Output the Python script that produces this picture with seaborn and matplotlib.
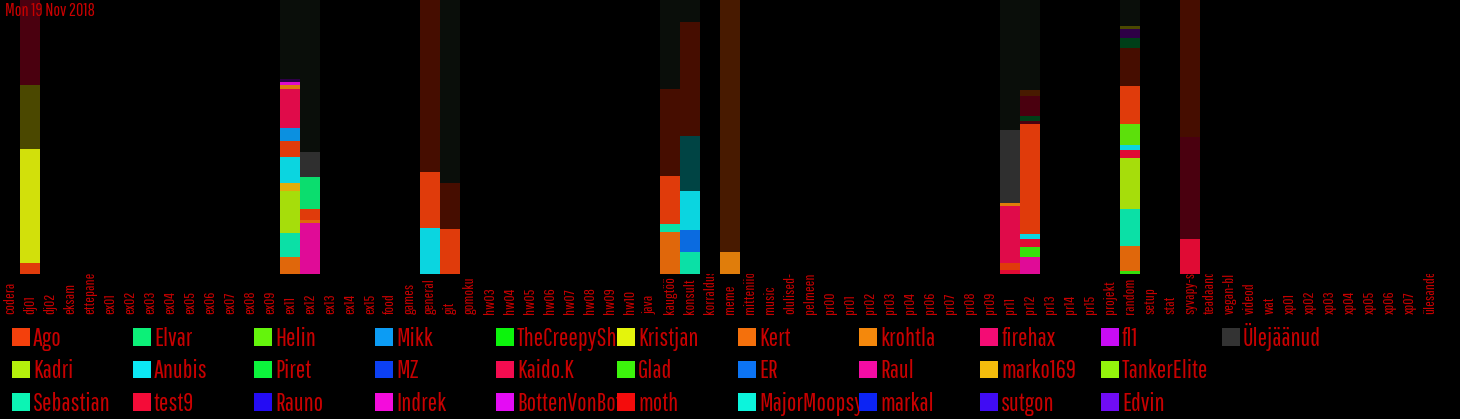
import matplotlib
matplotlib.use('Agg')
import pandas as pd
import matplotlib.pyplot as plt
import seaborn as sns
from matplotlib.patches import Patch
from matplotlib.transforms import Bbox, TransformedBbox

# channels on the x axis
channels = ['codera', 'dj01', 'dj02', 'eksam', 'ettepanekud',
            'ex01', 'ex02', 'ex03', 'ex04', 'ex05', 'ex06', 'ex07', 'ex08', 'ex09',
            'ex11', 'ex12', 'ex13', 'ex14', 'ex15', 'food', 'games', 'general', 'git', 'gomoku',
            'hw03', 'hw04', 'hw05', 'hw06', 'hw07', 'hw08', 'hw09', 'hw10',
            'java', 'kaugtöö', 'konsult', 'korraldus', 'meme', 'mitteniiolulised', 'music',
            'olulised-teated', 'pelmeeni-klubi',
            'pr00', 'pr01', 'pr02', 'pr03', 'pr04', 'pr06', 'pr07', 'pr08', 'pr09',
            'pr11', 'pr12', 'pr13', 'pr14', 'pr15', 'projekt', 'random', 'setup', 'stat',
            'syvapy-süvaõpe', 'teadaanded', 'vegan-blogi', 'videod', 'wat',
            'xp01', 'xp02', 'xp03', 'xp04', 'xp05', 'xp06', 'xp07', 'ülesanded']

# legend users (column by column) and their colours
users = ['Ago', 'Kadri', 'Sebastian', 'Elvar', 'Anubis', 'test9', 'Helin', 'Piret', 'Rauno',
         'Mikk', 'MZ', 'Indrek', 'TheCreepySh', 'Kaido.K', 'BottenVonBot', 'Kristjan', 'Glad', 'moth',
         'Kert', 'ER', 'MajorMoopsy', 'krohtla', 'Raul', 'markal', 'firehax', 'marko169', 'sutgon',
         'fl1', 'TankerElite', 'Edvin', 'Ülejäänud']
user_colors = ['#f4400c', '#b4f00c', '#0cf4b4', '#0cf078', '#0ce8f4', '#f40c38', '#64f40c', '#0cf43c', '#240cf4',
               '#0c9cf4', '#0c40f4', '#f40cdc', '#0cf40c', '#f40c50', '#e40cf4', '#e4f40c', '#3cf40c', '#f40c0c',
               '#f4700c', '#0c74f4', '#0cf4dc', '#f4880c', '#f40ca4', '#0c24f4', '#f40c74', '#f4bc0c', '#400cf4',
               '#c80cf4', '#94f40c', '#700cf4', '#333333']

# dark series without legend entry
dark_users = ['_tume', '_pruun', '_bordoo', '_oliiv', '_teal', '_roheline', '_lilla', '_oranz']
dark_colors = ['#0b0f0b', '#4c0e00', '#500010', '#524e00', '#004a4a', '#00441a', '#32004c', '#4e1c00']

# stacked segments, bottom to top (pixel-ish shares, normalised per channel)
seg_channel = (['dj01'] * 4
               + ['ex11'] * 12
               + ['ex12'] * 6
               + ['general'] * 3
               + ['git'] * 3
               + ['kaugtöö'] * 5
               + ['konsult'] * 6
               + ['meme'] * 2
               + ['pr11'] * 6
               + ['pr12'] * 10
               + ['random'] * 13
               + ['syvapy-süvaõpe'] * 3)
seg_user = (['Ago', 'Kristjan', '_oliiv', '_bordoo']
            + ['Kert', 'Sebastian', 'Kadri', 'marko169', 'Anubis', 'Ago', 'Mikk', 'Kaido.K', 'krohtla', 'Indrek', '_lilla', '_tume']
            + ['Raul', 'Kert', 'Ago', 'Elvar', 'Ülejäänud', '_tume']
            + ['Anubis', 'Ago', '_pruun']
            + ['Ago', '_pruun', '_tume']
            + ['Kert', 'Sebastian', 'Ago', '_pruun', '_tume']
            + ['Sebastian', 'ER', 'Anubis', '_teal', '_pruun', '_tume']
            + ['krohtla', '_oranz']
            + ['test9', 'Ago', 'Kaido.K', 'krohtla', 'Ülejäänud', '_tume']
            + ['Raul', 'Glad', 'test9', 'Anubis', 'Ago', '_bordoo', '_roheline', '_bordoo', '_oranz', '_tume']
            + ['Glad', 'Kert', 'Sebastian', 'Kadri', 'test9', 'Anubis', 'Helin', 'Ago', '_pruun', '_roheline', '_lilla', '_oliiv', '_tume']
            + ['test9', '_bordoo', '_pruun'])
seg_share = ([11, 114, 63, 85]
             + [17, 23, 41, 8, 25, 16, 12, 38, 4, 3, 3, 77]
             + [50, 3, 11, 32, 25, 150]
             + [46, 56, 172]
             + [45, 46, 183]
             + [42, 8, 47, 87, 88]
             + [22, 22, 38, 54, 113, 22]
             + [22, 252]
             + [4, 7, 57, 3, 72, 130]
             + [17, 10, 8, 5, 109, 3, 5, 20, 6, 89]
             + [3, 24, 36, 50, 8, 5, 20, 37, 37, 10, 9, 3, 25]
             + [35, 102, 137])

text_red = '#c80000'

df = pd.DataFrame({'channel': seg_channel, 'user': seg_user, 'share': seg_share})
df['pct'] = df['share'] / df.groupby('channel')['share'].transform('sum') * 100
df['top'] = df.groupby('channel')['pct'].cumsum()
df['layer'] = df.groupby('channel').cumcount(ascending=False)

# bars look a bit darker than the legend squares
def darker(c, f=0.92):
    r, g, b = matplotlib.colors.to_rgb(c)
    return (r * f, g * f, b * f)

bar_palette = {u: darker(c) for u, c in zip(users + dark_users, user_colors + dark_colors)}

sns.set_theme(style='dark', rc={'figure.facecolor': 'black', 'axes.facecolor': 'black',
                                'savefig.facecolor': 'black'})
plt.rcParams['font.family'] = ['Pathway Gothic One', 'DejaVu Sans']

fig = plt.figure(figsize=(14.6, 4.19), dpi=100)
ax_bottom = 1 - 274 / 419
ax = fig.add_axes([0, ax_bottom, 1440 / 1460, 274 / 419])

# overlay cumulative tops, highest layer first
for layer, sub in df.groupby('layer'):
    sns.barplot(data=sub, x='channel', y='top', hue='user', order=channels, palette=bar_palette,
                dodge=False, width=1.0, saturation=1, errorbar=None, legend=False,
                linewidth=0, ax=ax)

ax.set_xlim(-0.5, len(channels) - 0.5)
ax.set_ylim(0, 100)
ax.set_xlabel('')
ax.set_ylabel('')
ax.set_yticks([])
ax.set_xticks(range(len(channels)))
ax.set_xticklabels(channels, rotation=90, va='bottom', ha='center', fontsize=11, color=text_red)
ax.tick_params(axis='x', length=0, pad=29)
for s in ax.spines.values():
    s.set_visible(False)
ax.grid(False)

# long channel names get cut where the bars start
clip = TransformedBbox(Bbox([[0, 0], [1, ax_bottom]]), fig.transFigure)
for t in ax.get_xticklabels():
    t.set_clip_box(clip)
    t.set_clip_on(True)

fig.text(5 / 1460, 1 - 3 / 419, 'Mon 19 Nov 2018', color=text_red, fontsize=13, va='top', ha='left')

# legend, three rows per column with fixed column width
for col in range(0, len(users), 3):
    handles = [Patch(facecolor=user_colors[i], edgecolor='none', label=users[i])
               for i in range(col, min(col + 3, len(users)))]
    top_px = 327 if col + 3 <= len(users) else 323  # the Ü makes the lone last entry sit lower
    leg = fig.legend(handles=handles, loc='upper left',
                     bbox_to_anchor=((12 + 121 * (col // 3)) / 1460, 1 - top_px / 419),
                     frameon=False, fontsize=18, handlelength=0.72, handleheight=0.72,
                     handletextpad=0.12, labelspacing=0.33, borderpad=0, borderaxespad=0)
    for t in leg.get_texts():
        t.set_color(text_red)

fig.savefig('out.png', dpi=100, facecolor='black')
